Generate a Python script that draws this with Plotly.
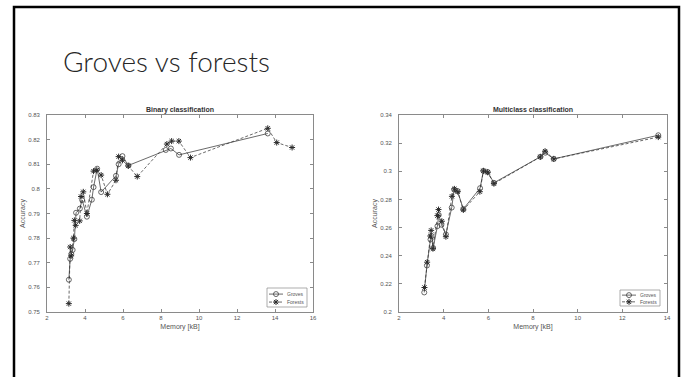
import plotly.graph_objects as go

W, H = 684, 377

# ---------------- data ----------------
bin_groves_x = [3.15, 3.22, 3.28, 3.35, 3.44, 3.53, 3.73, 3.85, 4.10, 4.36, 4.45, 4.64, 4.85,
                5.63, 5.77, 5.97, 6.28, 8.25, 8.52, 8.95, 13.62]
bin_groves_y = [0.7631, 0.7716, 0.7735, 0.7752, 0.7796, 0.7903, 0.7920, 0.7955, 0.7887, 0.7956,
                0.8007, 0.8082, 0.7987, 0.8053, 0.8100, 0.8133, 0.8095, 0.8158, 0.8164, 0.8138, 0.8225]
bin_forests_x = [3.15, 3.22, 3.27, 3.39, 3.44, 3.51, 3.72, 3.79, 3.91, 4.10, 4.45, 4.62, 4.85,
                 5.18, 5.63, 5.77, 5.97, 6.28, 6.75, 8.31, 8.56, 8.94, 9.55, 13.62, 14.09, 14.90]
bin_forests_y = [0.7534, 0.7764, 0.7728, 0.7800, 0.7872, 0.7852, 0.7870, 0.7969, 0.7988, 0.7900,
                 0.8072, 0.8076, 0.8056, 0.7978, 0.8035, 0.8131, 0.8116, 0.8093, 0.8050, 0.8182,
                 0.8194, 0.8194, 0.8127, 0.8246, 0.8188, 0.8168]

mc_groves_x = [3.13, 3.25, 3.41, 3.46, 3.53, 3.72, 3.78, 3.90, 4.10, 4.36, 4.47, 4.62, 4.88,
               5.63, 5.78, 5.97, 6.25, 8.33, 8.55, 8.93, 13.61]
mc_groves_y = [0.2139, 0.2330, 0.2515, 0.2540, 0.2455, 0.2610, 0.2690, 0.2620, 0.2552, 0.2742,
               0.2870, 0.2860, 0.2732, 0.2880, 0.3003, 0.2995, 0.2918, 0.3103, 0.3132, 0.3088, 0.3256]
mc_forests_x = [3.14, 3.26, 3.40, 3.44, 3.52, 3.72, 3.77, 3.92, 4.10, 4.37, 4.48, 4.63, 4.88,
                5.62, 5.78, 5.97, 6.25, 8.33, 8.54, 8.93, 13.61]
mc_forests_y = [0.2174, 0.2354, 0.2540, 0.2580, 0.2450, 0.2685, 0.2728, 0.2645, 0.2535, 0.2822,
                0.2875, 0.2855, 0.2725, 0.2855, 0.3003, 0.2993, 0.2912, 0.3102, 0.3143, 0.3088, 0.3243]

bin_x_ticks = [2, 4, 6, 8, 10, 12, 14, 16]
bin_y_ticks = [0.75, 0.76, 0.77, 0.78, 0.79, 0.80, 0.81, 0.82, 0.83]
bin_y_labels = ["0.75", "0.76", "0.77", "0.78", "0.79", "0.8", "0.81", "0.82", "0.83"]
mc_x_ticks = [2, 4, 6, 8, 10, 12, 14]
mc_y_ticks = [0.20, 0.22, 0.24, 0.26, 0.28, 0.30, 0.32, 0.34]
mc_y_labels = ["0.2", "0.22", "0.24", "0.26", "0.28", "0.3", "0.32", "0.34"]

slide_title = "Groves vs forests"
titles = ["Binary classification", "Multiclass classification"]
series_names = ["Groves", "Forests"]

# ---------------- helpers (window pixel -> paper) ----------------
def px_x(p):
    return p / W

def px_y(p):
    return 1 - p / H

LINE = "#2a2a2a"
AX = "#8a8a8a"
TXT = "#555555"
FONT = "Arial, Liberation Sans"

groves_style = dict(line=dict(color=LINE, width=0.7, dash="solid"),
                    marker=dict(symbol="circle-open", size=5, color=LINE, line=dict(width=0.7)))
forests_style = dict(line=dict(color=LINE, width=0.7, dash="3px,2px"),
                     marker=dict(symbol="asterisk-open", size=5, color=LINE,
                                 line=dict(width=1, color=LINE)))

fig = go.Figure()

def add_pair(gx, gy, fx, fy, xa, ya):
    fig.add_trace(go.Scatter(x=gx, y=gy, name=series_names[0], mode="lines+markers",
                             xaxis=xa, yaxis=ya, showlegend=False, **groves_style))
    fig.add_trace(go.Scatter(x=fx, y=fy, name=series_names[1], mode="lines+markers",
                             xaxis=xa, yaxis=ya, showlegend=False, **forests_style))

add_pair(bin_groves_x, bin_groves_y, bin_forests_x, bin_forests_y, "x", "y")
add_pair(mc_groves_x, mc_groves_y, mc_forests_x, mc_forests_y, "x2", "y2")

# ---- compact MATLAB-style legends drawn on a pixel overlay axis ----
legend_boxes = [(267, 307, 288, 307), (620, 660, 290, 306)]
for (x0, x1, y0, y1) in legend_boxes:
    fig.add_shape(type="rect", xref="x3", yref="y3", x0=x0, x1=x1, y0=y0, y1=y1,
                  line=dict(color=AX, width=0.7), fillcolor="white", layer="below")
    rows = [y0 + (y1 - y0) * 0.32, y0 + (y1 - y0) * 0.74]
    for name, style, ry in zip(series_names, [groves_style, forests_style], rows):
        fig.add_trace(go.Scatter(x=[x0 + 2, x0 + 9, x0 + 16], y=[ry, ry, ry],
                                 mode="lines", line=style["line"], xaxis="x3", yaxis="y3",
                                 showlegend=False, hoverinfo="skip"))
        fig.add_trace(go.Scatter(x=[x0 + 9], y=[ry], mode="markers", marker=style["marker"],
                                 xaxis="x3", yaxis="y3", showlegend=False, hoverinfo="skip"))
        fig.add_annotation(text=name, x=x0 + 17.5, y=ry, xref="x3", yref="y3",
                           xanchor="left", yanchor="middle", showarrow=False,
                           font=dict(family=FONT, size=5, color=TXT))

ydom = [px_y(312), px_y(115)]
common = dict(showgrid=False, zeroline=False, showline=True, linecolor=AX, linewidth=0.8,
              mirror="ticks", ticks="inside", ticklen=3, tickcolor=AX, tickwidth=0.8,
              tickfont=dict(family=FONT, size=6, color=TXT), automargin=False)
title_font = dict(family=FONT, size=7, color=TXT)

fig.update_layout(
    width=W, height=H,
    margin=dict(l=0, r=0, t=0, b=0),
    paper_bgcolor="white", plot_bgcolor="rgba(0,0,0,0)",
    showlegend=False,
    xaxis=dict(domain=[px_x(47), px_x(313)], range=[2, 16], tickvals=bin_x_ticks,
               title=dict(text="Memory [kB]", font=title_font, standoff=4), anchor="y", **common),
    yaxis=dict(domain=ydom, range=[0.75, 0.83], tickvals=bin_y_ticks, ticktext=bin_y_labels,
               ticklabelstandoff=5,
               title=dict(text="Accuracy", font=title_font, standoff=1), anchor="x", **common),
    xaxis2=dict(domain=[px_x(399), px_x(667)], range=[2, 14], tickvals=mc_x_ticks,
                title=dict(text="Memory [kB]", font=title_font, standoff=4), anchor="y2", **common),
    yaxis2=dict(domain=ydom, range=[0.20, 0.34], tickvals=mc_y_ticks, ticktext=mc_y_labels,
                ticklabelstandoff=5,
                title=dict(text="Accuracy", font=title_font, standoff=1), anchor="x2", **common),
    xaxis3=dict(domain=[0, 1], range=[0, W], visible=False, anchor="y3", fixedrange=True),
    yaxis3=dict(domain=[0, 1], range=[H, 0], visible=False, anchor="x3", fixedrange=True),
)

# subplot titles
for txt, cx in zip(titles, [180, 533]):
    fig.add_annotation(text="<b>" + txt + "</b>", x=px_x(cx), y=px_y(110), xref="paper", yref="paper",
                       xanchor="center", yanchor="middle", showarrow=False,
                       font=dict(family=FONT, size=7, color="#333333"))

# slide title
fig.add_annotation(text=slide_title, x=px_x(61), y=px_y(61), xref="paper", yref="paper",
                   xanchor="left", yanchor="middle", showarrow=False,
                   font=dict(family="Lato", size=28, color="#262626", weight=300))

# slide frame
fig.add_shape(type="rect", xref="paper", yref="paper",
              x0=px_x(14), x1=px_x(679), y0=px_y(400), y1=px_y(7),
              line=dict(color="black", width=2.5), fillcolor="rgba(0,0,0,0)", layer="above")

fig.write_html("out.html", config={"displayModeBar": False},
               post_script="document.body.style.margin='0';document.body.style.overflow='hidden';")
